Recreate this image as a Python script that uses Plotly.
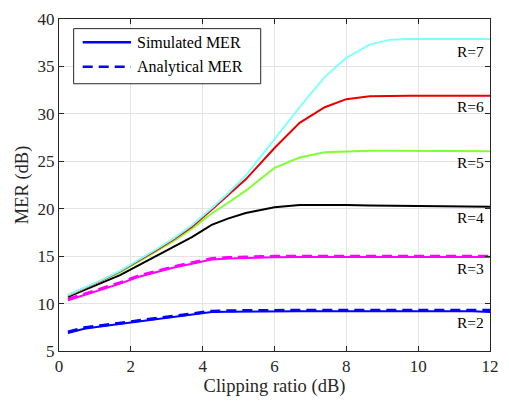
import plotly.graph_objects as go

# Clipping ratio sample points (dB)
clip_db = [0.25, 0.7, 1.2, 1.7, 2.2, 2.7, 3.2, 3.7, 4.25, 4.7, 5.2, 6.0, 6.7, 7.4,
           8.0, 8.65, 9.2, 9.75, 10.4, 11.0, 11.5, 12.0]

# Simulated MER (dB) for each resolution R
sim_r2 = [6.90, 7.35, 7.60, 7.85, 8.10, 8.35, 8.55, 8.80, 9.10, 9.15, 9.18, 9.20, 9.20, 9.20,
          9.20, 9.20, 9.20, 9.20, 9.20, 9.20, 9.20, 9.10]
sim_r3 = [10.35, 10.90, 11.50, 12.10, 12.80, 13.30, 13.80, 14.20, 14.65, 14.75, 14.82, 14.88, 14.90, 14.90,
          14.90, 14.90, 14.90, 14.90, 14.90, 14.90, 14.90, 14.90]
sim_r4 = [10.70, 11.40, 12.20, 13.00, 14.00, 15.00, 15.95, 17.00, 18.30, 18.95, 19.55, 20.15, 20.38, 20.40,
          20.38, 20.35, 20.33, 20.30, 20.28, 20.25, 20.22, 20.20]
sim_r5 = [10.85, 11.60, 12.40, 13.30, 14.40, 15.50, 16.60, 17.90, 19.50, 20.60, 21.90, 24.30, 25.40, 25.95,
          26.05, 26.10, 26.10, 26.10, 26.10, 26.08, 26.05, 26.05]
sim_r6 = [10.85, 11.60, 12.45, 13.40, 14.50, 15.60, 16.80, 18.10, 19.90, 21.40, 23.10, 26.40, 29.05, 30.70,
          31.55, 31.85, 31.90, 31.90, 31.90, 31.90, 31.90, 31.90]
sim_r7 = [10.90, 11.65, 12.50, 13.45, 14.55, 15.70, 16.90, 18.25, 20.05, 21.60, 23.50, 27.40, 30.70, 33.90,
          35.90, 37.30, 37.80, 37.90, 37.90, 37.90, 37.90, 37.90]

# Analytical MER (dB) for the low-resolution cases
ana_r2 = [7.00, 7.45, 7.70, 7.95, 8.20, 8.45, 8.65, 8.90, 9.20, 9.25, 9.28, 9.30, 9.30, 9.30,
          9.30, 9.30, 9.30, 9.30, 9.30, 9.30, 9.30, 9.30]
ana_r3 = [10.45, 11.00, 11.60, 12.20, 12.90, 13.40, 13.90, 14.30, 14.75, 14.85, 14.92, 14.98, 15.00, 15.00,
          15.00, 15.00, 15.00, 15.00, 15.00, 15.00, 15.00, 15.00]

# Curve label text and positions
label_text = ["R=7", "R=6", "R=5", "R=4", "R=3", "R=2"]
label_y = [36.6, 30.8, 24.9, 19.1, 13.7, 8.0]
label_x = 11.45

# Legend entries
legend_names = ["Simulated MER", "Analytical MER"]

FONT = "Liberation Serif"
AX = "#262626"
DASH = "10px,6px"

fig = go.Figure()

fig.add_trace(go.Scatter(x=clip_db, y=sim_r2, mode="lines", name=legend_names[0],
                         showlegend=False, line=dict(color="#0000ff", width=2)))
fig.add_trace(go.Scatter(x=clip_db, y=ana_r2, mode="lines", name=legend_names[1],
                         showlegend=False, line=dict(color="#0000ff", width=3, dash=DASH)))
fig.add_trace(go.Scatter(x=clip_db, y=sim_r3, mode="lines", showlegend=False,
                         line=dict(color="#ff00ff", width=2)))
fig.add_trace(go.Scatter(x=clip_db, y=ana_r3, mode="lines", showlegend=False,
                         line=dict(color="#ff00ff", width=3, dash=DASH)))

for ys, col in [(sim_r4, "#000000"), (sim_r5, "#80ff33"), (sim_r6, "#e60000"), (sim_r7, "#80ffff")]:
    fig.add_trace(go.Scatter(x=clip_db, y=ys, mode="lines", showlegend=False,
                             line=dict(color=col, width=2)))

for t, yv in zip(label_text, label_y):
    fig.add_annotation(x=label_x, y=yv, text=t, showarrow=False,
                       font=dict(family=FONT, size=15.5, color="#000000"))

# Boxed legend in the upper-left corner of the axes
fig.add_shape(type="rect", xref="paper", yref="paper",
              x0=0.034, x1=0.468, y0=0.805, y1=0.971,
              line=dict(color=AX, width=1), fillcolor="white", layer="above")
for i, (name, dash) in enumerate(zip(legend_names, ["solid", DASH])):
    yy = 0.930 - i * 0.074
    fig.add_shape(type="line", xref="paper", yref="paper",
                  x0=0.055, x1=0.167, y0=yy, y1=yy, layer="above",
                  line=dict(color="#0000ff", width=2.5, dash=dash))
    fig.add_annotation(xref="paper", yref="paper", x=0.176, y=yy, text=name,
                       xanchor="left", yanchor="middle", showarrow=False,
                       font=dict(family=FONT, size=16, color="#000000"))

axis_common = dict(
    showgrid=True, gridcolor="#e3e3e3", gridwidth=1,
    showline=True, linecolor=AX, linewidth=1, mirror="ticks",
    ticks="inside", ticklen=5, tickcolor=AX,
    zeroline=False,
    tickfont=dict(family=FONT, size=17, color=AX),
)

fig.update_xaxes(range=[0, 12], dtick=2, tick0=0,
                 title=dict(text="Clipping ratio (dB)", standoff=2,
                            font=dict(family=FONT, size=18.5, color=AX)),
                 **axis_common)
fig.update_yaxes(range=[5, 40], dtick=5, tick0=5,
                 title=dict(text="MER (dB)", standoff=4,
                            font=dict(family=FONT, size=18.5, color=AX)),
                 **axis_common)

fig.update_layout(
    width=509, height=401,
    margin=dict(l=59, r=14, t=10, b=48),
    paper_bgcolor="white", plot_bgcolor="white",
    showlegend=False,
)

fig.write_html("out.html")
